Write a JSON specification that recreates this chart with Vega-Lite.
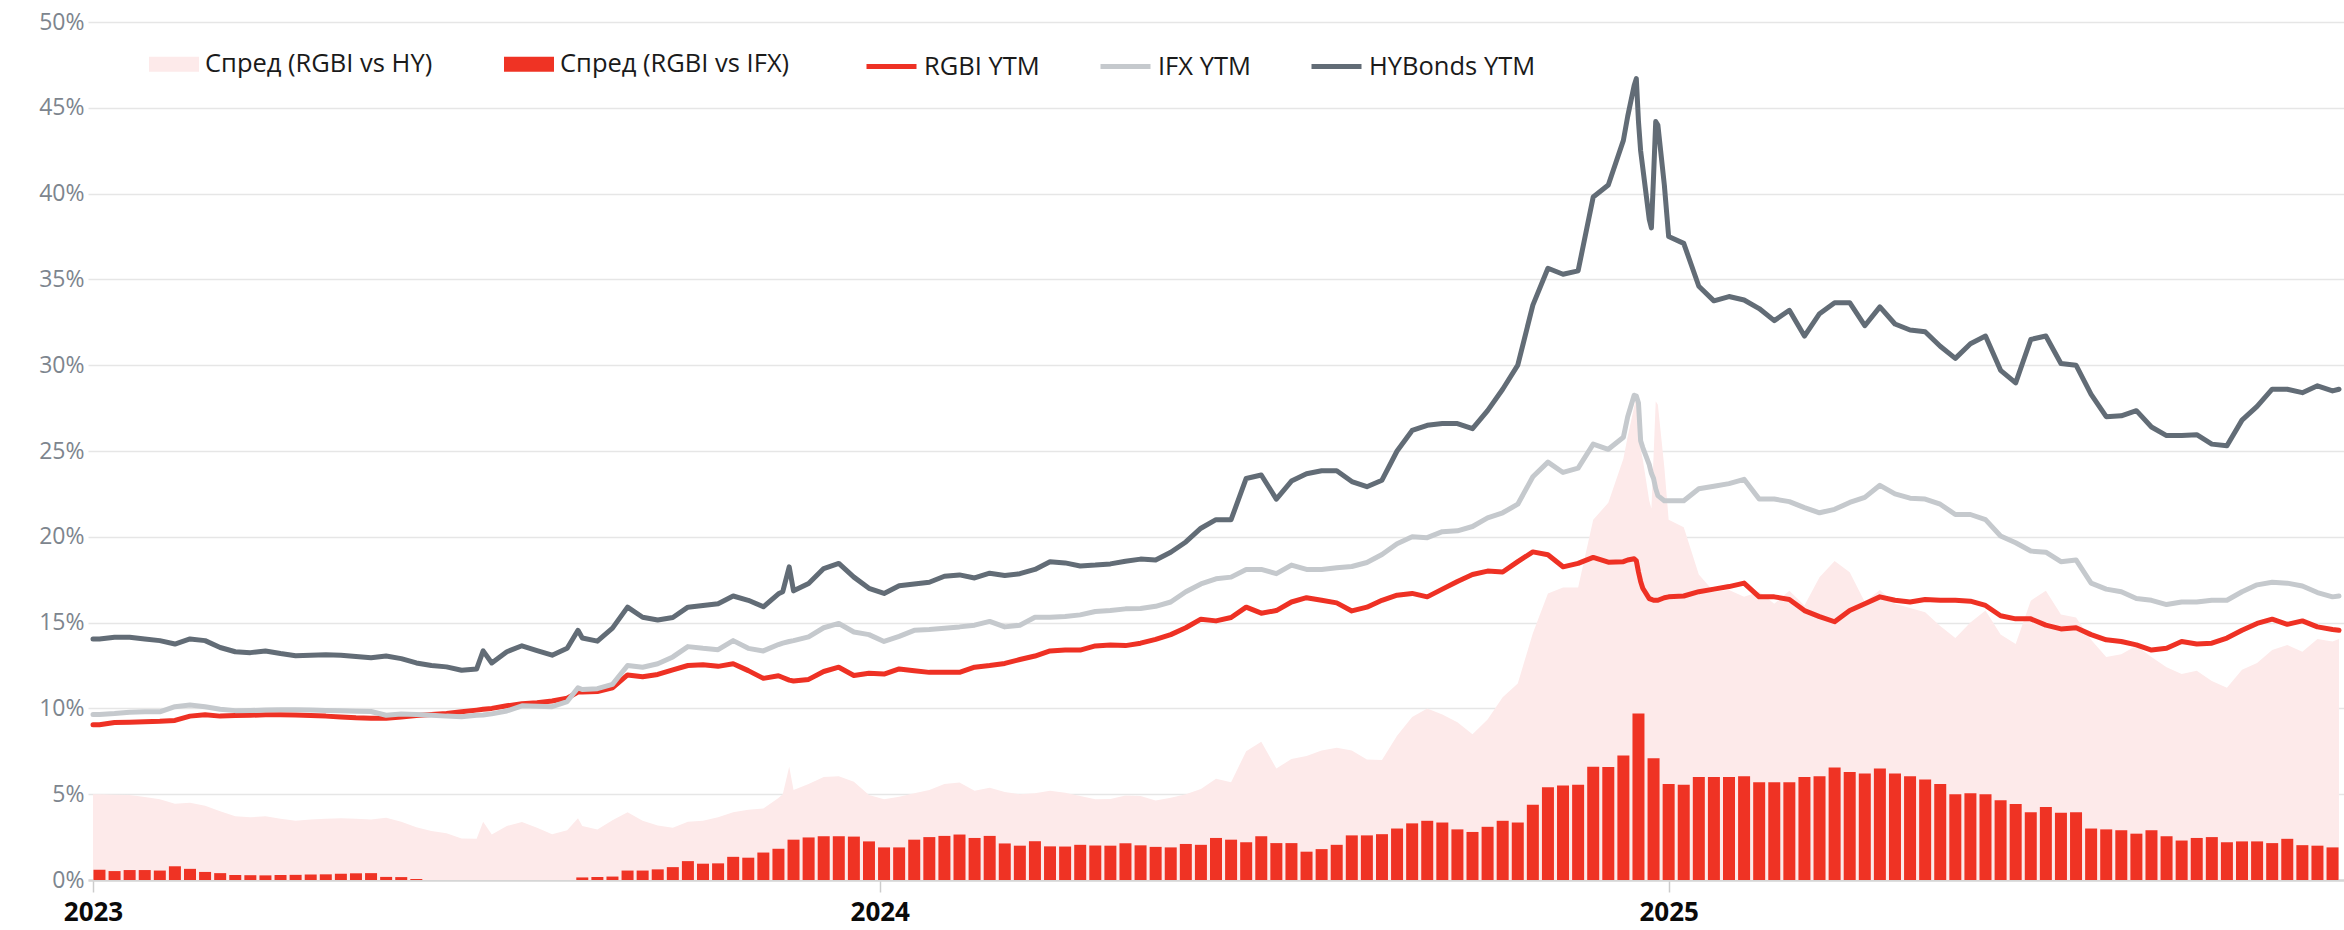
{
  "$schema": "https://vega.github.io/schema/vega-lite/v6.json",
  "width": 2256,
  "height": 858,
  "autosize": {"type": "none"},
  "padding": {"left": 88, "top": 22, "right": 0, "bottom": 50},
  "background": "white",
  "config": {
    "view": {"stroke": null},
    "font": "Open Sans",
    "axisY": {"domain": false, "ticks": false, "grid": true, "gridColor": "#e6e6e6", "gridWidth": 1.5, "labelFontSize": 23, "labelColor": "#7d858e", "labelPadding": 4, "labelFont": "Open Sans"},
    "axisX": {"grid": false, "domainColor": "#d6d6d6", "domainWidth": 2.5, "tickColor": "#cccccc", "tickWidth": 1.5, "tickSize": 12, "labelFontSize": 26, "labelFontWeight": "bold", "labelColor": "#0a0a0a", "labelPadding": 7, "labelFlush": false, "labelOverlap": false, "labelFont": "Open Sans"}
  },
  "data": {"values": [
    {"d":"2023-01-01","hy":14.05,"ifx":9.65,"rgbi":9.05,"shy":5.0,"sifx":null},
    {"d":"2023-01-04","hy":14.05,"ifx":9.65,"rgbi":9.05,"shy":5.0,"sifx":0.6},
    {"d":"2023-01-11","hy":14.15,"ifx":9.7,"rgbi":9.18,"shy":4.97,"sifx":0.52},
    {"d":"2023-01-18","hy":14.15,"ifx":9.78,"rgbi":9.2,"shy":4.95,"sifx":0.58},
    {"d":"2023-01-25","hy":14.05,"ifx":9.8,"rgbi":9.22,"shy":4.83,"sifx":0.58},
    {"d":"2023-02-01","hy":13.95,"ifx":9.8,"rgbi":9.25,"shy":4.7,"sifx":0.55},
    {"d":"2023-02-08","hy":13.75,"ifx":10.1,"rgbi":9.3,"shy":4.45,"sifx":0.8},
    {"d":"2023-02-15","hy":14.05,"ifx":10.2,"rgbi":9.55,"shy":4.5,"sifx":0.65},
    {"d":"2023-02-22","hy":13.95,"ifx":10.1,"rgbi":9.63,"shy":4.32,"sifx":0.47},
    {"d":"2023-03-01","hy":13.55,"ifx":9.95,"rgbi":9.55,"shy":4.0,"sifx":0.4},
    {"d":"2023-03-08","hy":13.3,"ifx":9.87,"rgbi":9.58,"shy":3.72,"sifx":0.29},
    {"d":"2023-03-15","hy":13.25,"ifx":9.88,"rgbi":9.6,"shy":3.65,"sifx":0.28},
    {"d":"2023-03-22","hy":13.35,"ifx":9.9,"rgbi":9.63,"shy":3.72,"sifx":0.27},
    {"d":"2023-03-29","hy":13.2,"ifx":9.92,"rgbi":9.63,"shy":3.57,"sifx":0.29},
    {"d":"2023-04-05","hy":13.07,"ifx":9.92,"rgbi":9.62,"shy":3.45,"sifx":0.3},
    {"d":"2023-04-12","hy":13.1,"ifx":9.9,"rgbi":9.58,"shy":3.52,"sifx":0.32},
    {"d":"2023-04-19","hy":13.12,"ifx":9.88,"rgbi":9.55,"shy":3.57,"sifx":0.33},
    {"d":"2023-04-26","hy":13.1,"ifx":9.86,"rgbi":9.5,"shy":3.6,"sifx":0.36},
    {"d":"2023-05-03","hy":13.02,"ifx":9.84,"rgbi":9.45,"shy":3.57,"sifx":0.39},
    {"d":"2023-05-10","hy":12.95,"ifx":9.82,"rgbi":9.42,"shy":3.53,"sifx":0.4},
    {"d":"2023-05-17","hy":13.05,"ifx":9.6,"rgbi":9.42,"shy":3.63,"sifx":0.18},
    {"d":"2023-05-24","hy":12.9,"ifx":9.67,"rgbi":9.5,"shy":3.4,"sifx":0.17},
    {"d":"2023-05-31","hy":12.65,"ifx":9.64,"rgbi":9.58,"shy":3.07,"sifx":0.06},
    {"d":"2023-06-07","hy":12.5,"ifx":9.6,"rgbi":9.65,"shy":2.85,"sifx":0},
    {"d":"2023-06-14","hy":12.42,"ifx":9.55,"rgbi":9.7,"shy":2.72,"sifx":0},
    {"d":"2023-06-21","hy":12.22,"ifx":9.52,"rgbi":9.8,"shy":2.42,"sifx":0},
    {"d":"2023-06-28","hy":12.3,"ifx":9.6,"rgbi":9.9,"shy":2.4,"sifx":0},
    {"d":"2023-07-01","hy":13.35,"ifx":9.62,"rgbi":9.95,"shy":3.4,"sifx":null},
    {"d":"2023-07-05","hy":12.65,"ifx":9.68,"rgbi":10.0,"shy":2.65,"sifx":0},
    {"d":"2023-07-12","hy":13.3,"ifx":9.85,"rgbi":10.15,"shy":3.15,"sifx":0},
    {"d":"2023-07-19","hy":13.65,"ifx":10.15,"rgbi":10.27,"shy":3.38,"sifx":0},
    {"d":"2023-07-26","hy":13.37,"ifx":10.12,"rgbi":10.33,"shy":3.04,"sifx":0},
    {"d":"2023-08-02","hy":13.1,"ifx":10.1,"rgbi":10.43,"shy":2.67,"sifx":0},
    {"d":"2023-08-09","hy":13.5,"ifx":10.4,"rgbi":10.6,"shy":2.9,"sifx":0},
    {"d":"2023-08-14","hy":14.55,"ifx":11.2,"rgbi":10.95,"shy":3.6,"sifx":null},
    {"d":"2023-08-16","hy":14.1,"ifx":11.1,"rgbi":10.95,"shy":3.15,"sifx":0.15},
    {"d":"2023-08-23","hy":13.92,"ifx":11.15,"rgbi":10.98,"shy":2.94,"sifx":0.17},
    {"d":"2023-08-30","hy":14.68,"ifx":11.4,"rgbi":11.2,"shy":3.48,"sifx":0.2},
    {"d":"2023-09-06","hy":15.9,"ifx":12.5,"rgbi":11.95,"shy":3.95,"sifx":0.55},
    {"d":"2023-09-13","hy":15.31,"ifx":12.4,"rgbi":11.85,"shy":3.46,"sifx":0.55},
    {"d":"2023-09-20","hy":15.15,"ifx":12.6,"rgbi":11.98,"shy":3.17,"sifx":0.62},
    {"d":"2023-09-27","hy":15.3,"ifx":13.0,"rgbi":12.25,"shy":3.05,"sifx":0.75},
    {"d":"2023-10-04","hy":15.9,"ifx":13.6,"rgbi":12.5,"shy":3.4,"sifx":1.1},
    {"d":"2023-10-11","hy":16.0,"ifx":13.5,"rgbi":12.55,"shy":3.45,"sifx":0.95},
    {"d":"2023-10-18","hy":16.1,"ifx":13.42,"rgbi":12.45,"shy":3.65,"sifx":0.97},
    {"d":"2023-10-25","hy":16.55,"ifx":13.95,"rgbi":12.6,"shy":3.95,"sifx":1.35},
    {"d":"2023-11-01","hy":16.3,"ifx":13.5,"rgbi":12.2,"shy":4.1,"sifx":1.3},
    {"d":"2023-11-08","hy":15.92,"ifx":13.35,"rgbi":11.75,"shy":4.17,"sifx":1.6},
    {"d":"2023-11-15","hy":16.68,"ifx":13.72,"rgbi":11.9,"shy":4.78,"sifx":1.82},
    {"d":"2023-11-17","hy":16.8,"ifx":13.8,"rgbi":11.8,"shy":5.0,"sifx":null},
    {"d":"2023-11-20","hy":18.25,"ifx":13.9,"rgbi":11.65,"shy":6.6,"sifx":null},
    {"d":"2023-11-22","hy":16.85,"ifx":13.95,"rgbi":11.6,"shy":5.25,"sifx":2.35},
    {"d":"2023-11-29","hy":17.28,"ifx":14.17,"rgbi":11.69,"shy":5.59,"sifx":2.48},
    {"d":"2023-12-06","hy":18.15,"ifx":14.7,"rgbi":12.15,"shy":6.0,"sifx":2.55},
    {"d":"2023-12-13","hy":18.45,"ifx":14.95,"rgbi":12.4,"shy":6.05,"sifx":2.55},
    {"d":"2023-12-20","hy":17.65,"ifx":14.45,"rgbi":11.92,"shy":5.73,"sifx":2.53},
    {"d":"2023-12-27","hy":17.0,"ifx":14.3,"rgbi":12.05,"shy":4.95,"sifx":2.25},
    {"d":"2024-01-03","hy":16.7,"ifx":13.9,"rgbi":12.0,"shy":4.7,"sifx":1.9},
    {"d":"2024-01-10","hy":17.15,"ifx":14.2,"rgbi":12.3,"shy":4.85,"sifx":1.9},
    {"d":"2024-01-17","hy":17.25,"ifx":14.55,"rgbi":12.2,"shy":5.05,"sifx":2.35},
    {"d":"2024-01-24","hy":17.35,"ifx":14.6,"rgbi":12.1,"shy":5.25,"sifx":2.5},
    {"d":"2024-01-31","hy":17.7,"ifx":14.67,"rgbi":12.1,"shy":5.6,"sifx":2.57},
    {"d":"2024-02-07","hy":17.78,"ifx":14.75,"rgbi":12.1,"shy":5.68,"sifx":2.65},
    {"d":"2024-02-14","hy":17.6,"ifx":14.85,"rgbi":12.4,"shy":5.2,"sifx":2.45},
    {"d":"2024-02-21","hy":17.88,"ifx":15.07,"rgbi":12.5,"shy":5.38,"sifx":2.57},
    {"d":"2024-02-28","hy":17.75,"ifx":14.75,"rgbi":12.62,"shy":5.13,"sifx":2.13},
    {"d":"2024-03-06","hy":17.85,"ifx":14.85,"rgbi":12.85,"shy":5.0,"sifx":2.0},
    {"d":"2024-03-13","hy":18.1,"ifx":15.31,"rgbi":13.05,"shy":5.05,"sifx":2.26},
    {"d":"2024-03-20","hy":18.55,"ifx":15.31,"rgbi":13.35,"shy":5.2,"sifx":1.96},
    {"d":"2024-03-27","hy":18.48,"ifx":15.35,"rgbi":13.4,"shy":5.08,"sifx":1.95},
    {"d":"2024-04-03","hy":18.3,"ifx":15.45,"rgbi":13.4,"shy":4.9,"sifx":2.05},
    {"d":"2024-04-10","hy":18.35,"ifx":15.65,"rgbi":13.64,"shy":4.71,"sifx":2.01},
    {"d":"2024-04-17","hy":18.42,"ifx":15.7,"rgbi":13.7,"shy":4.72,"sifx":2.0},
    {"d":"2024-04-24","hy":18.58,"ifx":15.8,"rgbi":13.66,"shy":4.92,"sifx":2.14},
    {"d":"2024-05-01","hy":18.7,"ifx":15.82,"rgbi":13.8,"shy":4.9,"sifx":2.02},
    {"d":"2024-05-08","hy":18.65,"ifx":15.95,"rgbi":14.02,"shy":4.63,"sifx":1.93},
    {"d":"2024-05-15","hy":19.1,"ifx":16.2,"rgbi":14.3,"shy":4.8,"sifx":1.9},
    {"d":"2024-05-22","hy":19.7,"ifx":16.8,"rgbi":14.7,"shy":5.0,"sifx":2.1},
    {"d":"2024-05-29","hy":20.5,"ifx":17.25,"rgbi":15.2,"shy":5.3,"sifx":2.05},
    {"d":"2024-06-05","hy":21.0,"ifx":17.55,"rgbi":15.1,"shy":5.9,"sifx":2.45},
    {"d":"2024-06-12","hy":21.0,"ifx":17.65,"rgbi":15.3,"shy":5.7,"sifx":2.35},
    {"d":"2024-06-19","hy":23.4,"ifx":18.1,"rgbi":15.9,"shy":7.5,"sifx":2.2},
    {"d":"2024-06-26","hy":23.6,"ifx":18.1,"rgbi":15.55,"shy":8.05,"sifx":2.55},
    {"d":"2024-07-03","hy":22.2,"ifx":17.85,"rgbi":15.7,"shy":6.5,"sifx":2.15},
    {"d":"2024-07-10","hy":23.25,"ifx":18.35,"rgbi":16.2,"shy":7.05,"sifx":2.15},
    {"d":"2024-07-17","hy":23.67,"ifx":18.1,"rgbi":16.45,"shy":7.22,"sifx":1.65},
    {"d":"2024-07-24","hy":23.85,"ifx":18.1,"rgbi":16.3,"shy":7.55,"sifx":1.8},
    {"d":"2024-07-31","hy":23.85,"ifx":18.2,"rgbi":16.15,"shy":7.7,"sifx":2.05},
    {"d":"2024-08-07","hy":23.22,"ifx":18.27,"rgbi":15.68,"shy":7.54,"sifx":2.6},
    {"d":"2024-08-14","hy":22.92,"ifx":18.5,"rgbi":15.9,"shy":7.02,"sifx":2.6},
    {"d":"2024-08-21","hy":23.3,"ifx":18.97,"rgbi":16.3,"shy":7.0,"sifx":2.67},
    {"d":"2024-08-28","hy":25.0,"ifx":19.6,"rgbi":16.6,"shy":8.4,"sifx":3.0},
    {"d":"2024-09-04","hy":26.2,"ifx":20.0,"rgbi":16.7,"shy":9.5,"sifx":3.3},
    {"d":"2024-09-11","hy":26.5,"ifx":19.95,"rgbi":16.5,"shy":10.0,"sifx":3.45},
    {"d":"2024-09-18","hy":26.6,"ifx":20.3,"rgbi":16.95,"shy":9.65,"sifx":3.35},
    {"d":"2024-09-25","hy":26.6,"ifx":20.35,"rgbi":17.4,"shy":9.2,"sifx":2.95},
    {"d":"2024-10-02","hy":26.3,"ifx":20.6,"rgbi":17.8,"shy":8.5,"sifx":2.8},
    {"d":"2024-10-09","hy":27.35,"ifx":21.1,"rgbi":18.0,"shy":9.35,"sifx":3.1},
    {"d":"2024-10-16","hy":28.6,"ifx":21.4,"rgbi":17.95,"shy":10.65,"sifx":3.45},
    {"d":"2024-10-23","hy":30.0,"ifx":21.9,"rgbi":18.55,"shy":11.45,"sifx":3.35},
    {"d":"2024-10-30","hy":33.5,"ifx":23.5,"rgbi":19.12,"shy":14.38,"sifx":4.38},
    {"d":"2024-11-06","hy":35.65,"ifx":24.35,"rgbi":18.95,"shy":16.7,"sifx":5.4},
    {"d":"2024-11-13","hy":35.3,"ifx":23.75,"rgbi":18.25,"shy":17.05,"sifx":5.5},
    {"d":"2024-11-20","hy":35.5,"ifx":24.0,"rgbi":18.45,"shy":17.05,"sifx":5.55},
    {"d":"2024-11-27","hy":39.8,"ifx":25.4,"rgbi":18.8,"shy":21.0,"sifx":6.6},
    {"d":"2024-12-04","hy":40.5,"ifx":25.1,"rgbi":18.52,"shy":21.98,"sifx":6.58},
    {"d":"2024-12-11","hy":43.1,"ifx":25.8,"rgbi":18.55,"shy":24.55,"sifx":7.25},
    {"d":"2024-12-13","hy":44.5,"ifx":27.0,"rgbi":18.65,"shy":25.85,"sifx":null},
    {"d":"2024-12-16","hy":46.3,"ifx":28.25,"rgbi":18.72,"shy":27.58,"sifx":null},
    {"d":"2024-12-17","hy":46.7,"ifx":28.2,"rgbi":18.6,"shy":28.1,"sifx":null},
    {"d":"2024-12-18","hy":44.2,"ifx":27.8,"rgbi":17.95,"shy":26.25,"sifx":9.7},
    {"d":"2024-12-19","hy":42.5,"ifx":25.6,"rgbi":17.4,"shy":25.1,"sifx":null},
    {"d":"2024-12-20","hy":41.5,"ifx":25.2,"rgbi":17.0,"shy":24.5,"sifx":null},
    {"d":"2024-12-23","hy":38.5,"ifx":24.2,"rgbi":16.4,"shy":22.1,"sifx":null},
    {"d":"2024-12-24","hy":38.0,"ifx":23.7,"rgbi":16.35,"shy":21.65,"sifx":null},
    {"d":"2024-12-25","hy":41.0,"ifx":23.4,"rgbi":16.3,"shy":24.7,"sifx":7.1},
    {"d":"2024-12-26","hy":44.2,"ifx":22.8,"rgbi":16.3,"shy":27.9,"sifx":null},
    {"d":"2024-12-27","hy":44.0,"ifx":22.4,"rgbi":16.3,"shy":27.7,"sifx":null},
    {"d":"2024-12-30","hy":40.5,"ifx":22.1,"rgbi":16.45,"shy":24.05,"sifx":null},
    {"d":"2025-01-01","hy":37.5,"ifx":22.1,"rgbi":16.5,"shy":21.0,"sifx":5.6},
    {"d":"2025-01-08","hy":37.1,"ifx":22.1,"rgbi":16.55,"shy":20.55,"sifx":5.55},
    {"d":"2025-01-15","hy":34.6,"ifx":22.8,"rgbi":16.8,"shy":17.8,"sifx":6.0},
    {"d":"2025-01-22","hy":33.75,"ifx":22.95,"rgbi":16.95,"shy":16.8,"sifx":6.0},
    {"d":"2025-01-29","hy":34.0,"ifx":23.1,"rgbi":17.1,"shy":16.9,"sifx":6.0},
    {"d":"2025-02-05","hy":33.8,"ifx":23.35,"rgbi":17.3,"shy":16.5,"sifx":6.05},
    {"d":"2025-02-12","hy":33.3,"ifx":22.2,"rgbi":16.5,"shy":16.8,"sifx":5.7},
    {"d":"2025-02-19","hy":32.6,"ifx":22.2,"rgbi":16.5,"shy":16.1,"sifx":5.7},
    {"d":"2025-02-26","hy":33.2,"ifx":22.05,"rgbi":16.35,"shy":16.85,"sifx":5.7},
    {"d":"2025-03-05","hy":31.7,"ifx":21.7,"rgbi":15.7,"shy":16.0,"sifx":6.0},
    {"d":"2025-03-12","hy":33.0,"ifx":21.4,"rgbi":15.35,"shy":17.65,"sifx":6.05},
    {"d":"2025-03-19","hy":33.64,"ifx":21.6,"rgbi":15.05,"shy":18.59,"sifx":6.55},
    {"d":"2025-03-26","hy":33.64,"ifx":22.0,"rgbi":15.7,"shy":17.94,"sifx":6.3},
    {"d":"2025-04-02","hy":32.3,"ifx":22.3,"rgbi":16.1,"shy":16.2,"sifx":6.2},
    {"d":"2025-04-09","hy":33.4,"ifx":23.0,"rgbi":16.5,"shy":16.9,"sifx":6.5},
    {"d":"2025-04-16","hy":32.4,"ifx":22.5,"rgbi":16.3,"shy":16.1,"sifx":6.2},
    {"d":"2025-04-23","hy":32.05,"ifx":22.25,"rgbi":16.2,"shy":15.85,"sifx":6.05},
    {"d":"2025-04-30","hy":31.95,"ifx":22.2,"rgbi":16.35,"shy":15.6,"sifx":5.85},
    {"d":"2025-05-07","hy":31.1,"ifx":21.9,"rgbi":16.3,"shy":14.8,"sifx":5.6},
    {"d":"2025-05-14","hy":30.4,"ifx":21.3,"rgbi":16.3,"shy":14.1,"sifx":5.0},
    {"d":"2025-05-21","hy":31.25,"ifx":21.3,"rgbi":16.25,"shy":15.0,"sifx":5.05},
    {"d":"2025-05-28","hy":31.7,"ifx":21.0,"rgbi":16.0,"shy":15.7,"sifx":5.0},
    {"d":"2025-06-04","hy":29.7,"ifx":20.05,"rgbi":15.4,"shy":14.3,"sifx":4.65},
    {"d":"2025-06-11","hy":28.97,"ifx":19.65,"rgbi":15.22,"shy":13.75,"sifx":4.43},
    {"d":"2025-06-18","hy":31.5,"ifx":19.17,"rgbi":15.22,"shy":16.28,"sifx":3.95},
    {"d":"2025-06-25","hy":31.7,"ifx":19.1,"rgbi":14.85,"shy":16.85,"sifx":4.25},
    {"d":"2025-07-02","hy":30.1,"ifx":18.55,"rgbi":14.63,"shy":15.47,"sifx":3.92},
    {"d":"2025-07-09","hy":30.0,"ifx":18.65,"rgbi":14.7,"shy":15.3,"sifx":3.95},
    {"d":"2025-07-16","hy":28.3,"ifx":17.3,"rgbi":14.3,"shy":14.0,"sifx":3.0},
    {"d":"2025-07-23","hy":27.0,"ifx":16.95,"rgbi":14.0,"shy":13.0,"sifx":2.95},
    {"d":"2025-07-30","hy":27.05,"ifx":16.8,"rgbi":13.9,"shy":13.15,"sifx":2.9},
    {"d":"2025-08-06","hy":27.35,"ifx":16.4,"rgbi":13.7,"shy":13.65,"sifx":2.7},
    {"d":"2025-08-13","hy":26.4,"ifx":16.3,"rgbi":13.4,"shy":13.0,"sifx":2.9},
    {"d":"2025-08-20","hy":25.9,"ifx":16.05,"rgbi":13.5,"shy":12.4,"sifx":2.55},
    {"d":"2025-08-27","hy":25.9,"ifx":16.2,"rgbi":13.9,"shy":12.0,"sifx":2.3},
    {"d":"2025-09-03","hy":25.95,"ifx":16.2,"rgbi":13.75,"shy":12.2,"sifx":2.45},
    {"d":"2025-09-10","hy":25.4,"ifx":16.3,"rgbi":13.8,"shy":11.6,"sifx":2.5},
    {"d":"2025-09-17","hy":25.3,"ifx":16.3,"rgbi":14.1,"shy":11.2,"sifx":2.2},
    {"d":"2025-09-24","hy":26.8,"ifx":16.8,"rgbi":14.55,"shy":12.25,"sifx":2.25},
    {"d":"2025-10-01","hy":27.6,"ifx":17.2,"rgbi":14.95,"shy":12.65,"sifx":2.25},
    {"d":"2025-10-08","hy":28.6,"ifx":17.35,"rgbi":15.2,"shy":13.4,"sifx":2.15},
    {"d":"2025-10-15","hy":28.6,"ifx":17.3,"rgbi":14.9,"shy":13.7,"sifx":2.4},
    {"d":"2025-10-22","hy":28.4,"ifx":17.13,"rgbi":15.1,"shy":13.3,"sifx":2.03},
    {"d":"2025-10-29","hy":28.8,"ifx":16.75,"rgbi":14.75,"shy":14.05,"sifx":2.0},
    {"d":"2025-11-05","hy":28.5,"ifx":16.5,"rgbi":14.6,"shy":13.9,"sifx":1.9},
    {"d":"2025-11-08","hy":28.6,"ifx":16.55,"rgbi":14.55,"shy":14.05,"sifx":null}
  ]},
  "encoding": {
    "x": {
      "field": "d", "type": "temporal", "title": null,
      "scale": {"type": "utc", "domain": [{"year": 2023, "month": 1, "date": 1, "utc": true}, {"year": 2025, "month": 11, "date": 8, "utc": true}]},
      "axis": {"values": [{"year": 2023, "month": 1, "date": 1, "utc": true}, {"year": 2024, "month": 1, "date": 1, "utc": true}, {"year": 2025, "month": 1, "date": 1, "utc": true}], "format": "%Y", "formatType": "utc"}
    }
  },
  "layer": [
    {
      "mark": {"type": "area", "interpolate": "linear"},
      "encoding": {
        "y": {"field": "shy", "type": "quantitative", "title": null, "scale": {"domain": [0, 50]}, "axis": {"values": [0, 5, 10, 15, 20, 25, 30, 35, 40, 45, 50], "labelExpr": "datum.value + '%'"}},
        "fill": {
          "datum": "Спред (RGBI vs HY)", "type": "nominal",
          "scale": {"domain": ["Спред (RGBI vs HY)", "Спред (RGBI vs IFX)"], "range": ["#fdeaea", "#ef3324"]},
          "legend": {"title": null, "orient": "none", "legendX": 61, "legendY": 17, "direction": "horizontal", "symbolType": "M-1,-0.3H1V0.3H-1Z", "symbolSize": 2500, "symbolStrokeWidth": 0, "symbolOpacity": 1, "labelFontSize": 25.5, "labelFont": "Open Sans", "labelColor": "#1a1a1a", "labelOffset": 6, "columnPadding": 71, "padding": 0, "labelLimit": 0}
        }
      }
    },
    {
      "mark": {"type": "bar", "width": 12},
      "encoding": {
        "y": {"field": "sifx", "type": "quantitative", "title": null, "scale": {"domain": [0, 50]}, "axis": {"values": [0, 5, 10, 15, 20, 25, 30, 35, 40, 45, 50], "labelExpr": "datum.value + '%'"}},
        "fill": {"datum": "Спред (RGBI vs IFX)", "type": "nominal"}
      }
    },
    {
      "mark": {"type": "line", "strokeWidth": 5, "strokeJoin": "round", "strokeCap": "round"},
      "encoding": {
        "y": {"field": "rgbi", "type": "quantitative", "title": null, "scale": {"domain": [0, 50]}, "axis": {"values": [0, 5, 10, 15, 20, 25, 30, 35, 40, 45, 50], "labelExpr": "datum.value + '%'"}},
        "stroke": {
          "datum": "RGBI YTM", "type": "nominal",
          "scale": {"domain": ["RGBI YTM", "IFX YTM", "HYBonds YTM"], "range": ["#ee3124", "#c5c9cd", "#626c76"]},
          "legend": {"title": null, "orient": "none", "legendX": 776, "legendY": 17, "direction": "horizontal", "symbolType": "stroke", "symbolSize": 2500, "symbolStrokeWidth": 5, "symbolOpacity": 1, "labelFontSize": 25.5, "labelFont": "Open Sans", "labelColor": "#1a1a1a", "labelOffset": 5, "columnPadding": 50, "padding": 0, "labelLimit": 0}
        }
      }
    },
    {
      "mark": {"type": "line", "strokeWidth": 5, "strokeJoin": "round", "strokeCap": "round"},
      "encoding": {
        "y": {"field": "ifx", "type": "quantitative", "title": null, "scale": {"domain": [0, 50]}, "axis": {"values": [0, 5, 10, 15, 20, 25, 30, 35, 40, 45, 50], "labelExpr": "datum.value + '%'"}},
        "stroke": {"datum": "IFX YTM", "type": "nominal"}
      }
    },
    {
      "mark": {"type": "line", "strokeWidth": 5, "strokeJoin": "round", "strokeCap": "round"},
      "encoding": {
        "y": {"field": "hy", "type": "quantitative", "title": null, "scale": {"domain": [0, 50]}, "axis": {"values": [0, 5, 10, 15, 20, 25, 30, 35, 40, 45, 50], "labelExpr": "datum.value + '%'"}},
        "stroke": {"datum": "HYBonds YTM", "type": "nominal"}
      }
    }
  ]
}
